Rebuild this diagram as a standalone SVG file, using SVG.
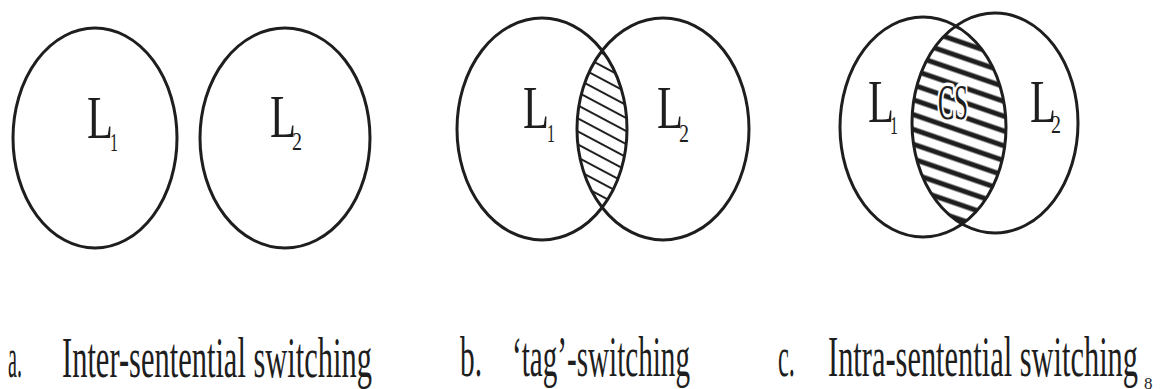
<svg xmlns="http://www.w3.org/2000/svg" width="1164" height="389" viewBox="0 0 1164 389">
<style>
.c{fill:none;stroke:#1e1e1e;stroke-width:3}
.t{font-family:"Liberation Serif","Times New Roman",serif;fill:#1e1e1e}
.big{font-size:62px}
.sub{font-size:26px}
.lab{font-size:56px}
</style>
<defs>
<pattern id="hb" patternUnits="userSpaceOnUse" width="20" height="11.5" patternTransform="rotate(28)">
<rect x="-1" y="4.75" width="22" height="2" fill="#1e1e1e"/>
</pattern>
<pattern id="hc" patternUnits="userSpaceOnUse" width="20" height="14" patternTransform="rotate(19)">
<rect x="-1" y="4.5" width="22" height="5" fill="#1e1e1e"/>
</pattern>
<clipPath id="bL"><ellipse cx="542" cy="129" rx="85" ry="111"/></clipPath>
<clipPath id="bR"><ellipse cx="663" cy="129" rx="86" ry="111"/></clipPath>
<clipPath id="cL"><ellipse cx="923" cy="127" rx="83" ry="110"/></clipPath>
<clipPath id="cR"><ellipse cx="995" cy="123" rx="83" ry="110"/></clipPath>
</defs>

<g id="panel-a">
<ellipse class="c" cx="95" cy="138" rx="82" ry="110"/>
<ellipse class="c" cx="285" cy="138" rx="85" ry="110"/>
<text class="t big" x="87" y="138" textLength="26" lengthAdjust="spacingAndGlyphs">L</text>
<text class="t sub" x="110" y="151" textLength="8" lengthAdjust="spacingAndGlyphs">1</text>
<text class="t big" x="270" y="137" textLength="26" lengthAdjust="spacingAndGlyphs">L</text>
<text class="t sub" x="292" y="150" textLength="10" lengthAdjust="spacingAndGlyphs">2</text>
</g>

<g id="panel-b">
<g clip-path="url(#bL)"><rect x="560" y="0" width="90" height="260" fill="url(#hb)" clip-path="url(#bR)"/></g>
<ellipse class="c" cx="542" cy="129" rx="85" ry="111"/>
<ellipse class="c" cx="663" cy="129" rx="86" ry="111"/>
<text class="t big" x="523" y="128" textLength="26" lengthAdjust="spacingAndGlyphs">L</text>
<text class="t sub" x="547" y="142" textLength="8" lengthAdjust="spacingAndGlyphs">1</text>
<text class="t big" x="657" y="128" textLength="26" lengthAdjust="spacingAndGlyphs">L</text>
<text class="t sub" x="679" y="142" textLength="10" lengthAdjust="spacingAndGlyphs">2</text>
</g>

<g id="panel-c">
<g clip-path="url(#cL)"><rect x="900" y="0" width="120" height="260" fill="url(#hc)" clip-path="url(#cR)"/></g>
<ellipse class="c" cx="923" cy="127" rx="83" ry="110"/>
<ellipse class="c" cx="995" cy="123" rx="83" ry="110"/>
<text class="t big" x="868" y="122" textLength="26" lengthAdjust="spacingAndGlyphs">L</text>
<text class="t sub" x="890" y="134" textLength="8" lengthAdjust="spacingAndGlyphs">1</text>
<text class="t big" x="1030" y="122" textLength="26" lengthAdjust="spacingAndGlyphs">L</text>
<text class="t sub" x="1051" y="133" textLength="10" lengthAdjust="spacingAndGlyphs">2</text>
<text class="t" x="938" y="119" font-size="50" textLength="30" lengthAdjust="spacingAndGlyphs" stroke="#fff" stroke-width="7" paint-order="stroke" stroke-linejoin="round">CS</text>
</g>

<g id="labels">
<text class="t lab" x="8" y="377" textLength="14" lengthAdjust="spacingAndGlyphs">a.</text>
<text class="t lab" x="62" y="377" textLength="310" lengthAdjust="spacingAndGlyphs">Inter-sentential switching</text>
<text class="t lab" x="460" y="376" textLength="22" lengthAdjust="spacingAndGlyphs">b.</text>
<text class="t lab" x="512" y="376" textLength="178" lengthAdjust="spacingAndGlyphs">‘tag’-switching</text>
<text class="t lab" x="778" y="376" textLength="17" lengthAdjust="spacingAndGlyphs">c.</text>
<text class="t lab" x="828" y="376" textLength="310" lengthAdjust="spacingAndGlyphs">Intra-sentential switching</text>
<text class="t" x="1144" y="389" font-size="17">8</text>
</g>
</svg>
